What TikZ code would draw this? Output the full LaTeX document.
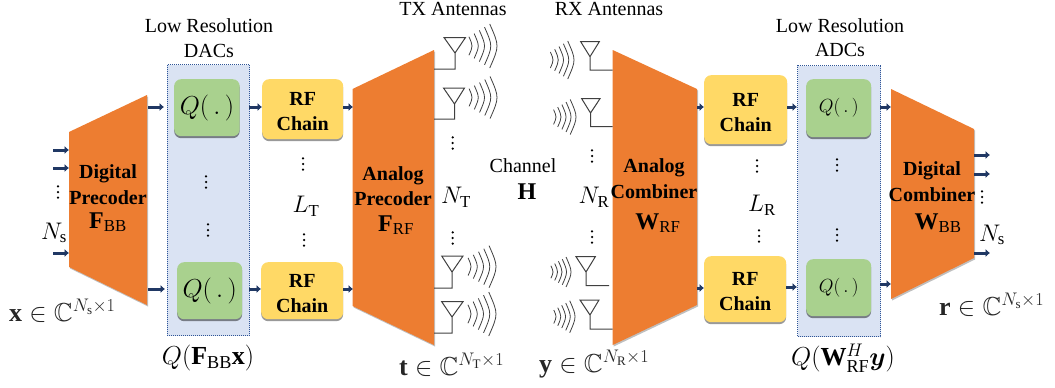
\documentclass[tikz,border=0pt]{standalone}
\usepackage{fix-cm}
\usepackage{amsmath,amssymb}
\usepackage{fontspec}
\setmainfont{Liberation Serif}
\usetikzlibrary{arrows.meta,shadows}
\definecolor{orangeT}{HTML}{ED7D31}
\definecolor{blueBox}{HTML}{DAE3F3}
\definecolor{blueEdge}{HTML}{2F5597}
\definecolor{greenQ}{HTML}{A9D18E}
\definecolor{yellowRF}{HTML}{FFD966}
\definecolor{navy}{HTML}{203864}
\definecolor{antline}{HTML}{404040}
\newcommand{\fs}[1]{\fontsize{#1}{#1}\selectfont}
\newcommand{\rfchain}{\rule{0pt}{18pt}RF\\[5pt]Chain}
\newcommand{\wavesx}[4]{% cy, inner tip, outer tip, half height
  \foreach \i in {0,1,2,3,4}{
    \pgfmathsetmacro{\tip}{#2+(#3-#2)*\i/4}
    \pgfmathsetmacro{\hh}{#4*(0.42+0.58*\i/4)}
    \pgfmathsetmacro{\en}{\tip-0.33*\hh}
    \pgfmathsetmacro{\ct}{\en+(\tip-\en)/0.75}
    \draw[wave] (\en,#1-\hh) .. controls (\ct,#1) .. (\en,#1+\hh);
  }}
\tikzset{
  x=1pt,y=-1pt,
  trap/.style={fill=orangeT,draw=none,drop shadow={shadow xshift=1pt,shadow yshift=-1.5pt,opacity=.25,fill=black}},
  qbox/.style={fill=greenQ,rounded corners=7pt,draw=none,anchor=north west,inner sep=0pt,drop shadow={shadow xshift=0pt,shadow yshift=-2pt,opacity=.45,fill=black}},
  rfbox/.style={fill=yellowRF,rounded corners=7pt,draw=none,anchor=north west,inner sep=0pt,drop shadow={shadow xshift=0pt,shadow yshift=-2pt,opacity=.4,fill=black},font=\fs{20}\bfseries,align=center},
  conv/.style={fill=blueBox,draw=blueEdge,densely dotted,line width=1pt},
  arr/.style={draw=navy,line width=3pt,-{Latex[length=4.5pt,width=8.5pt]},shorten >=0pt},
  ant/.style={draw=antline,line width=1pt},
  wave/.style={draw=antline,line width=0.8pt},
  txt/.style={font=\fs{20},inner sep=0pt,align=center},
  btxt/.style={font=\fs{20}\bfseries,inner sep=0pt,align=center},
  mth/.style={font=\fs{24},inner sep=0pt},
  big/.style={font=\fs{26},inner sep=0pt},
  eqn/.style={font=\fs{26},inner sep=0pt,text=black!85},
}
\begin{document}
\begin{tikzpicture}
\useasboundingbox (0,0) rectangle (1055,388);
% converter panels
\node[conv,anchor=north west,minimum width=82.5pt,minimum height=271pt,inner sep=0pt] (dac) at (166.5,64) {};
\node[conv,anchor=north west,minimum width=83pt,minimum height=271pt,inner sep=0pt] (adc) at (797,65) {};
% trapezoids
\path[trap] (69,132) -- (147,95) -- (147,305) -- (69,267) -- cycle;
\path[trap] (352.5,89) -- (434,50) -- (434,345) -- (352.5,306) -- cycle;
\path[trap] (612.7,50) -- (697,89) -- (697,305) -- (612.7,345) -- cycle;
\path[trap] (891,89) -- (974,129) -- (974,258) -- (891,299) -- cycle;
% blocks
\node[qbox,minimum width=65.5pt,minimum height=57pt] (q1) at (174,79) {\fs{26}$Q(\,.\,)$};
\node[qbox,minimum width=65pt,minimum height=57pt] (q2) at (177,262) {\fs{26}$Q(\,.\,)$};
\node[qbox,minimum width=65pt,minimum height=58pt] (q3) at (806,79) {\fs{19}$Q(\,.\,)$};
\node[qbox,minimum width=65pt,minimum height=57pt] (q4) at (806,259) {\fs{19}$Q(\,.\,)$};
\node[rfbox,minimum width=81pt,minimum height=60pt] (rf1) at (262,79) {\rfchain};
\node[rfbox,minimum width=82pt,minimum height=57pt] (rf2) at (261,262) {\rfchain};
\node[rfbox,minimum width=83pt,minimum height=69pt] (rf3) at (704,75) {\rfchain};
\node[rfbox,minimum width=82pt,minimum height=66pt] (rf4) at (704,256) {\rfchain};
% free arrow ends
\coordinate (in1) at (53,150); \coordinate (in1e) at (69,150);
\coordinate (in2) at (53,168); \coordinate (in2e) at (69,168);
\coordinate (in3) at (53,253); \coordinate (in3e) at (69,253);
\coordinate (dpo1) at (148,107); \coordinate (dq1) at (164,107);
\coordinate (dpo2) at (148,289); \coordinate (dq2) at (165,289);
\coordinate (da1) at (249,107); \coordinate (da2) at (249,289);
\coordinate (ap1) at (353,107); \coordinate (ap2) at (353,289);
\coordinate (ac1) at (697,107); \coordinate (ac2) at (697,288);
\coordinate (ad1) at (797,107); \coordinate (ad2) at (797,287);
\coordinate (ao1) at (880,107); \coordinate (ao2) at (880,284);
\coordinate (dc1) at (891,107); \coordinate (dc2) at (891,284);
\coordinate (ou1) at (974,155); \coordinate (ou1e) at (990,155);
\coordinate (ou2) at (974,174); \coordinate (ou2e) at (990,174);
\coordinate (ou3) at (974,253); \coordinate (ou3e) at (990,253);
% arrows
\draw[arr] (in1) -- (in1e);
\draw[arr] (in2) -- (in2e);
\draw[arr] (in3) -- (in3e);
\draw[arr] (dpo1) -- (dq1);
\draw[arr] (dpo2) -- (dq2);
\draw[arr] (da1) -- (rf1.west |- da1);
\draw[arr] (da2) -- (rf2.west |- da2);
\draw[arr] (rf1.east |- ap1) -- (ap1);
\draw[arr] (rf2.east |- ap2) -- (ap2);
\draw[arr] (ac1) -- (rf3.west |- ac1);
\draw[arr] (ac2) -- (rf4.west |- ac2);
\draw[arr] (rf3.east |- ad1) -- (ad1);
\draw[arr] (rf4.east |- ad2) -- (ad2);
\draw[arr] (ao1) -- (dc1);
\draw[arr] (ao2) -- (dc2);
\draw[arr] (ou1) -- (ou1e);
\draw[arr] (ou2) -- (ou2e);
\draw[arr] (ou3) -- (ou3e);
% TX antennas
\draw[ant] (444,37.5) -- (465.5,37.5) -- (455,53) -- cycle (455,53) -- (455,69) -- (434,69);
\draw[ant] (443.5,88) -- (464.5,88) -- (454.5,104) -- cycle (454.5,104) -- (454.5,119) -- (434,119);
\draw[ant] (441.7,256) -- (463,256) -- (452,272) -- cycle (452,272) -- (452,288) -- (434,288);
\draw[ant] (441.7,301.7) -- (463,301.7) -- (452,317) -- cycle (452,317) -- (452,333) -- (434,333);
\wavesx{46}{472}{497}{22}
\wavesx{97.5}{472}{497}{21}
\wavesx{266.7}{471}{496}{21}
\wavesx{314}{471}{496}{22}
% RX antennas
\draw[ant] (580.7,41.7) -- (599.3,41.7) -- (590,56.7) -- cycle (590,56.7) -- (590,70) -- (612.7,70);
\draw[ant] (581.7,98.7) -- (600,98.7) -- (590.5,113) -- cycle (590.5,113) -- (590.5,126.7) -- (612.7,126.7);
\draw[ant] (576,256.7) -- (595.3,256.7) -- (586,272) -- cycle (586,272) -- (586,285.7) -- (609,285.7);
\draw[ant] (580,300) -- (599,300) -- (590,315) -- cycle (590,315) -- (590,329) -- (612.7,329);
\wavesx{60}{553}{574}{19}
\wavesx{117}{556}{576}{17.5}
\wavesx{272}{553}{571}{15}
\wavesx{316.7}{556}{575}{16}
% text
\node[txt] (t1) at (209,26) {Low Resolution};
\node[txt] (t2) at (209,51) {DACs};
\node[txt] (t3) at (840,26) {Low Resolution};
\node[txt] (t4) at (840,50) {ADCs};
\node[txt] (t5) at (453,9) {TX Antennas};
\node[txt] (t6) at (609,9) {RX Antennas};
\node[txt] (t7) at (523,166) {Channel};
\node[mth] (t8) at (527,192) {$\mathbf{H}$};
\node[btxt] (l1) at (108,174) {Digital};
\node[btxt] (l2) at (108,198) {Precoder};
\node[mth] (l3) at (108,222) {$\mathbf{F}_{\mathrm{BB}}$};
\node[btxt] (l4) at (393,176) {Analog};
\node[btxt] (l5) at (393,199) {Precoder};
\node[mth] (l6) at (396,225) {$\mathbf{F}_{\mathrm{RF}}$};
\node[btxt] (l7) at (654,168) {Analog};
\node[btxt] (l8) at (654,192) {Combiner};
\node[mth] (l9) at (658,223) {$\mathbf{W}_{\mathrm{RF}}$};
\node[btxt] (l10) at (932,171) {Digital};
\node[btxt] (l11) at (932,195) {Combiner};
\node[mth] (l12) at (938,223) {$\mathbf{W}_{\mathrm{BB}}$};
\node[mth] (n1) at (54,233) {$N_{\mathrm{s}}$};
\node[mth] (n2) at (992,235) {$N_{\mathrm{s}}$};
\node[mth] (n3) at (456,197) {$N_{\mathrm{T}}$};
\node[mth] (n4) at (594,197) {$N_{\mathrm{R}}$};
\node[mth] (n5) at (306,206) {$L_{\mathrm{T}}$};
\node[mth] (n6) at (762,205) {$L_{\mathrm{R}}$};
\node[eqn,anchor=west] (e1) at (9,311) {$\mathbf{x}\in\mathbb{C}^{N_{\mathrm{s}}\times 1}$};
\node[eqn,anchor=west] (e2) at (939,305) {$\mathbf{r}\in\mathbb{C}^{N_{\mathrm{s}}\times 1}$};
\node[eqn,anchor=west] (e3) at (399,365) {$\mathbf{t}\in\mathbb{C}^{N_{\mathrm{T}}\times 1}$};
\node[eqn,anchor=west] (e4) at (539,364) {$\mathbf{y}\in\mathbb{C}^{N_{\mathrm{R}}\times 1}$};
\node[big] (e5) at (208,358) {$Q(\mathbf{F}_{\mathrm{BB}}\mathbf{x})$};
\node[big] (e6) at (843,358) {$Q(\mathbf{W}_{\mathrm{RF}}^{H}\boldsymbol{y})$};
% dots
\foreach \nm/\px/\py in {d1/58/192,d2/982/197,d3/206/182,d4/208/230,d5/303/164,d6/304/240,d7/452.7/143,d8/452.7/238,d9/592/156,d10/592/237,d11/757/166,d12/759/236,d13/837/165,d14/837/235}{
  \fill (\px,\py-5.7) circle (1.25pt) (\px,\py) circle (1.25pt) (\px,\py+5.7) circle (1.25pt);
}
\end{tikzpicture}
\end{document}
